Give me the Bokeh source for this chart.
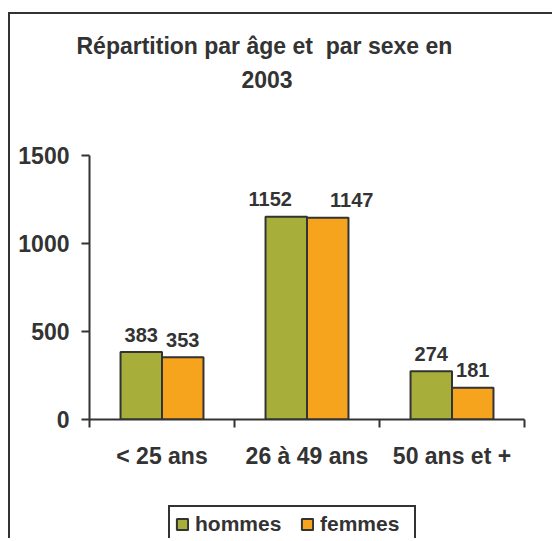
import numpy as np
from bokeh.plotting import figure
from bokeh.layouts import column
from bokeh.models import (ColumnDataSource, Range1d, FixedTicker, Title, Legend,
                          LegendItem)
from bokeh.transform import dodge
from bokeh.core.properties import value
from bokeh.embed import file_html
from bokeh.resources import INLINE

# ---- data ----
categories = ["< 25 ans", "26 à 49 ans", "50 ans et +"]
hommes = [383, 1152, 274]
femmes = [353, 1147, 181]
series_names = ["hommes", "femmes"]
y_ticks = [0, 500, 1000, 1500]
title_lines = ["Répartition par âge et\u00a0 par sexe en", "2003"]

# label nudges (screen px, style only)
hommes_dx = [0, -16, 0]
femmes_dx = [0, 24, 0]

FONT = "Liberation Sans"
TXT = "#333333"
GREEN = "#A7AE3A"
ORANGE = "#F6A41E"
BORDER = "2px solid #333333"
W = 544

centers = [i + 0.5 for i in range(len(categories))]
src = ColumnDataSource(dict(
    x=centers, hommes=hommes, femmes=femmes,
    hl=[str(v) for v in hommes], fl=[str(v) for v in femmes],
    hdx=hommes_dx, fdx=femmes_dx,
))

# ---------------- chart ----------------
p = figure(width=W, height=476, output_backend="svg", toolbar_location=None,
           x_range=Range1d(0, len(categories)), y_range=Range1d(0, 1500),
           min_border_left=79, min_border_right=30, min_border_top=141,
           min_border_bottom=71)
p.styles = {"border-left": BORDER, "border-top": BORDER}
p.outline_line_color = None
p.xgrid.visible = False
p.ygrid.visible = False

bw = 0.286
rh = p.vbar(x=dodge("x", -bw / 2, range=p.x_range), top="hommes", width=bw,
            source=src, fill_color=GREEN, line_color=TXT, line_width=2)
rf = p.vbar(x=dodge("x", bw / 2, range=p.x_range), top="femmes", width=bw,
            source=src, fill_color=ORANGE, line_color=TXT, line_width=2)

for col, lab, dxc, off in (("hommes", "hl", "hdx", -bw / 2), ("femmes", "fl", "fdx", bw / 2)):
    p.text(x=dodge("x", off, range=p.x_range), y=col, text=lab, source=src,
           x_offset=dxc, y_offset=-17.5, text_align="center",
           text_baseline="alphabetic", text_font=value(FONT),
           text_font_style="bold", text_font_size="20px", text_color=TXT)

ya = p.yaxis[0]
ya.ticker = FixedTicker(ticks=y_ticks)
ya.axis_line_color = TXT
ya.axis_line_width = 2
ya.major_tick_line_color = TXT
ya.major_tick_line_width = 2
ya.major_tick_out = 8
ya.major_tick_in = 0
ya.minor_tick_line_color = None
ya.major_label_standoff = 12
ya.major_label_text_font = FONT
ya.major_label_text_font_style = "bold"
ya.major_label_text_font_size = "23px"
ya.major_label_text_color = TXT

xa = p.xaxis[0]
xa.ticker = FixedTicker(ticks=centers,
                        minor_ticks=list(range(len(categories) + 1)))
xa.major_label_overrides = {c: name for c, name in zip(centers, categories)}
xa.axis_line_color = TXT
xa.axis_line_width = 2
xa.major_tick_line_color = None
xa.major_tick_out = 0
xa.major_tick_in = 0
xa.minor_tick_line_color = TXT
xa.minor_tick_line_width = 2
xa.minor_tick_out = 8
xa.minor_tick_in = 0
xa.major_label_standoff = 15
xa.major_label_text_font = FONT
xa.major_label_text_font_style = "bold"
xa.major_label_text_font_size = "23px"
xa.major_label_text_color = TXT

# title: spacer nearest the frame, then line 2, then line 1
tstyle = dict(text_font=FONT, text_font_style="bold", text_font_size="23px",
              text_color=TXT, align="left")
p.add_layout(Title(text=" ", text_font_size="1px", standoff=65), "above")
p.add_layout(Title(text=title_lines[1], offset=152, standoff=0, **tstyle), "above")
p.add_layout(Title(text=title_lines[0], offset=-13, standoff=20, **tstyle), "above")

# ---------------- legend strip ----------------
# legend swatches come from renderers whose bar heights are undefined (nothing drawn)
swatch = ColumnDataSource(dict(x=centers, blank=np.full(len(categories), np.nan)))
b = figure(width=W, height=50, output_backend="svg", toolbar_location=None,
           x_axis_location=None, y_axis_location=None, min_border=0,
           x_range=Range1d(0, len(categories)), y_range=Range1d(0, 1500))
b.outline_line_color = None
b.grid.visible = False
b.styles = {"border-left": BORDER}
lh = b.vbar(x="x", top="blank", width=bw, source=swatch,
            fill_color=GREEN, line_color=TXT, line_width=2)
lf = b.vbar(x="x", top="blank", width=bw, source=swatch,
            fill_color=ORANGE, line_color=TXT, line_width=2)
legend = Legend(items=[LegendItem(label=series_names[0], renderers=[lh]),
                       LegendItem(label=series_names[1], renderers=[lf])],
                orientation="horizontal", location=(79, -5),
                glyph_width=14, glyph_height=14, label_standoff=6,
                label_width=89, spacing=16, padding=5, margin=0,
                label_text_font=FONT, label_text_font_style="bold",
                label_text_font_size="21px", label_text_color=TXT,
                border_line_color=TXT, border_line_width=2,
                border_line_alpha=1,
                background_fill_color="white", background_fill_alpha=1)
b.add_layout(legend, "center")

layout = column(p, b, spacing=0)
layout.margin = (12, 0, 0, 8)

open("out.html", "w").write(file_html(layout, INLINE))
